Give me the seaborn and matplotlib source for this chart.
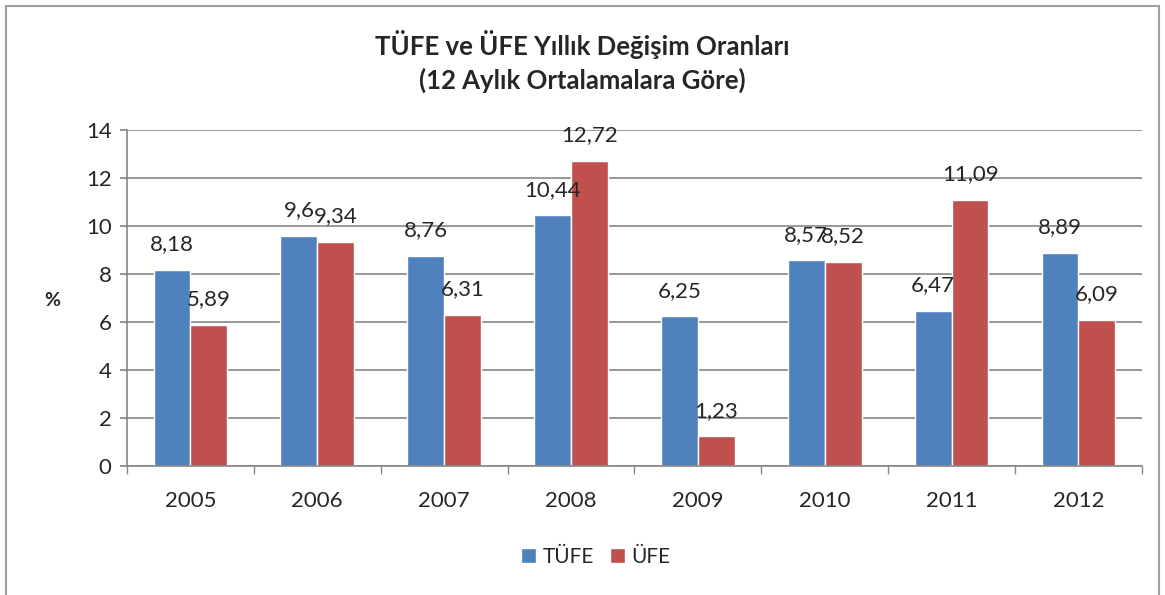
import pandas as pd
import matplotlib.pyplot as plt
import seaborn as sns
from matplotlib.patches import Rectangle

years = ["2005", "2006", "2007", "2008", "2009", "2010", "2011", "2012"]
tufe = [8.18, 9.6, 8.76, 10.44, 6.25, 8.57, 6.47, 8.89]
ufe = [5.89, 9.34, 6.31, 12.72, 1.23, 8.52, 11.09, 6.09]
series = ["TÜFE", "ÜFE"]
colors = ["#4F81BD", "#C0504D"]

df = pd.DataFrame({
    "Yıl": years * 2,
    "Oran": tufe + ufe,
    "Seri": [series[0]] * len(years) + [series[1]] * len(years),
})

sns.set_theme(style="white")
plt.rcParams["font.family"] = ["Lato", "DejaVu Sans"]

fig = plt.figure(figsize=(11.65, 5.95), dpi=100)
ax = fig.add_axes([0.109, 0.2168, 0.8712, 0.5647])

sns.barplot(data=df, x="Yıl", y="Oran", hue="Seri", palette=colors,
            width=0.58, saturation=1, ax=ax, legend=True)

ax.set_ylim(0, 14)
ax.set_yticks(range(0, 15, 2))
ax.set_xlim(-0.5, len(years) - 0.5)
ax.yaxis.grid(True, color="#868686", linewidth=1.2)
ax.set_axisbelow(True)
for side in ["top", "right"]:
    ax.spines[side].set_visible(False)
for side in ["left", "bottom"]:
    ax.spines[side].set_color("#868686")
    ax.spines[side].set_linewidth(1.2)

ax.tick_params(axis="y", left=True, length=5, color="#868686", labelsize=16, pad=6)
ax.tick_params(axis="x", bottom=False, labelsize=16, pad=12)
ax.set_xticks(range(len(years)))
ax.set_xticks([i + 0.5 for i in range(-1, len(years))], minor=True)
ax.tick_params(axis="x", which="minor", bottom=True, length=6, color="#868686")

ax.set_xlabel("")
ax.set_ylabel("%", rotation=0, fontsize=14, fontweight="bold", va="center", ha="center")
ax.yaxis.set_label_coords(-0.074, 0.494)

# etiketler: ondalık ayırıcı virgül
for cont in ax.containers:
    labels = [f"{b.get_height():g}".replace(".", ",") for b in cont]
    ax.bar_label(cont, labels=labels, padding=11, fontsize=16)

handles, labs = ax.get_legend_handles_labels()
ax.legend(handles, labs, loc="center", bbox_to_anchor=(0.462, -0.271),
          ncol=2, frameon=False, fontsize=15, handlelength=0.7,
          handleheight=0.7, columnspacing=0.8, handletextpad=0.3)

fig.text(0.5, 0.897, "TÜFE ve ÜFE Yıllık Değişim Oranları\n(12 Aylık Ortalamalara Göre)",
         ha="center", va="center", fontsize=18.5, fontweight="bold", linespacing=1.4)

fig.patches.append(Rectangle((0.005, -0.1), 0.99, 1.09, transform=fig.transFigure,
                             fill=False, edgecolor="#A0A0A0", linewidth=1.5))

fig.savefig("out.png", dpi=100)
